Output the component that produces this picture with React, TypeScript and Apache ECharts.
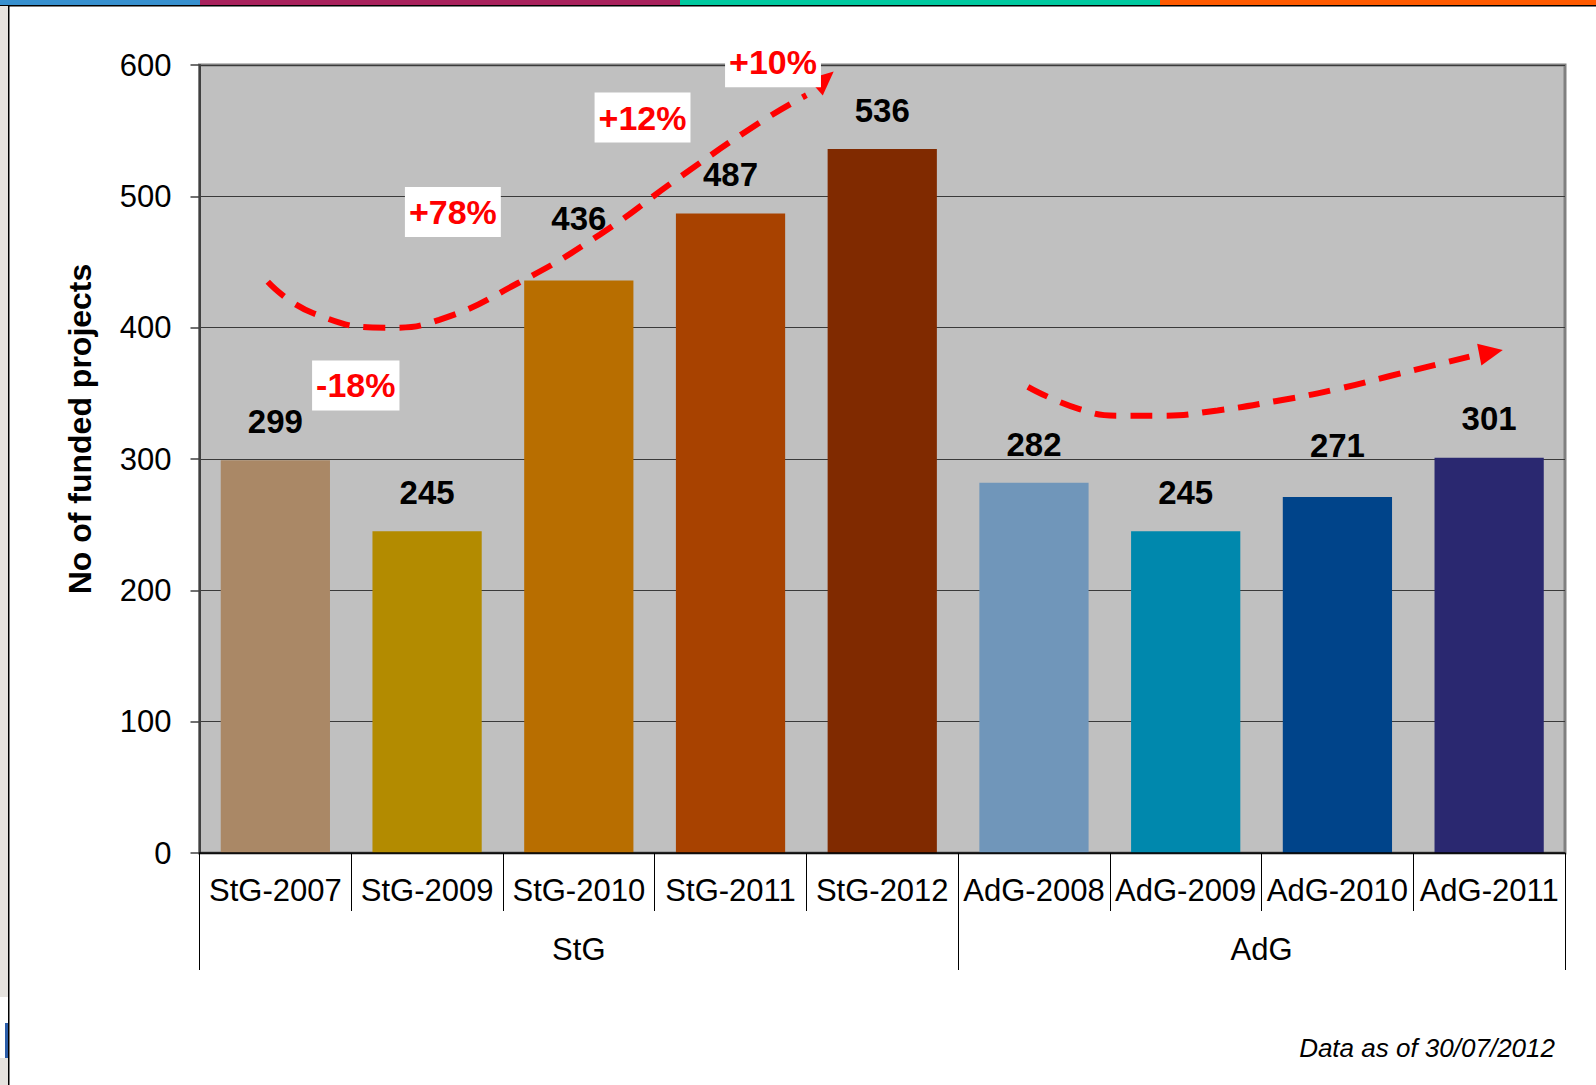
import React, { useEffect, useRef } from "react";
import * as echarts from "echarts";

// ---- data ----
const categories = ["StG-2007", "StG-2009", "StG-2010", "StG-2011", "StG-2012", "AdG-2008", "AdG-2009", "AdG-2010", "AdG-2011"];
const projects = [299, 245, 436, 487, 536, 282, 245, 271, 301];
const barColors = ["#AA8866", "#B38B00", "#B86E00", "#A84200", "#802A00", "#7096BA", "#0088AD", "#00448A", "#2A2870"];
const groupNames = ["StG", "AdG"];
const groupStart = [0, 5];
const groupEnd = [4, 8];
const yMin = 0;
const yMax = 600;
const yStep = 100;

// value-label lift above each bar (px) – a style, kept apart from the values
const labelDistance = [22, 22, 45, 22, 22, 22, 22, 35, 23];

// trend annotations (category index, value)
const stgTrend = [[-0.05, 435], [0.25, 411], [0.75, 400], [1.08, 406], [1.6, 434], [2.14, 471], [2.67, 515], [3.19, 556], [3.5, 577]];
const stgTrendTip = [3.68, 595];
const adgTrend = [[4.96, 355], [5.3, 338], [5.58, 333], [5.85, 333], [6.21, 337], [6.59, 344], [6.97, 352.5], [7.34, 363], [7.87, 378]];
const adgTrendTip = [8.09, 383];
const changeLabels = ["-18%", "+78%", "+12%", "+10%"];
const changeAnchors = [[0.53, 356], [1.17, 488], [2.42, 560], [3.28, 602]];

const FONT = "'Liberation Sans', Arial, Helvetica, sans-serif";

export default function App() {
  const ref = useRef<HTMLDivElement>(null);

  useEffect(() => {
    document.body.style.margin = "0";
    const chart = echarts.init(ref.current!, null, { renderer: "svg" });

    const nPts = categories.length * 2 + 1;
    const groupAxisData: string[] = new Array(nPts).fill("");
    const groupTickIdx: number[] = [];
    groupNames.forEach((g, i) => {
      const center = (groupStart[i] + groupEnd[i]) / 2;
      groupAxisData[Math.round((center + 0.5) * 2)] = g;
      groupTickIdx.push(groupStart[i] * 2, (groupEnd[i] + 1) * 2);
    });

    const dashed = {
      color: "#FF0000",
      width: 6,
      type: [22, 14],
      cap: "butt",
    };

    const option: any = {
      animation: false,
      backgroundColor: "#FFFFFF",
      grid: {
        left: 199.5,
        right: 31,
        top: 65,
        bottom: 232,
        show: true,
        backgroundColor: "#C0C0C0",
        borderColor: "#808080",
        borderWidth: 3,
      },
      xAxis: [
        {
          type: "category",
          data: categories,
          position: "bottom",
          axisLine: { show: true, onZero: false, lineStyle: { color: "#000000", width: 1.5 } },
          axisTick: { show: true, length: 58, lineStyle: { color: "#000000", width: 1 } },
          axisLabel: { interval: 0, fontSize: 31, color: "#000000", fontFamily: FONT, margin: 22 },
          splitLine: { show: false },
          z: 5,
        },
        {
          type: "category",
          data: groupAxisData,
          position: "bottom",
          boundaryGap: false,
          axisLine: { show: false, onZero: false },
          axisTick: {
            show: true,
            length: 117,
            interval: (i: number) => groupTickIdx.indexOf(i) >= 0,
            lineStyle: { color: "#000000", width: 1 },
          },
          axisLabel: { interval: 0, fontSize: 31, color: "#000000", fontFamily: FONT, margin: 81 },
          splitLine: { show: false },
        },
        {
          type: "value",
          show: false,
          min: -0.5,
          max: categories.length - 0.5,
          axisLine: { onZero: false },
        },
      ],
      yAxis: {
        type: "value",
        min: yMin,
        max: yMax,
        interval: yStep,
        position: "left",
        axisLine: { show: true, onZero: false, lineStyle: { color: "#404040", width: 2 } },
        axisTick: { show: true, length: 9, lineStyle: { color: "#404040", width: 1.5 } },
        axisLabel: { fontSize: 31, color: "#000000", fontFamily: FONT, margin: 28 },
        splitLine: { show: true, lineStyle: { color: "#3A3A3A", width: 1 } },
      },
      series: [
        {
          type: "bar",
          xAxisIndex: 0,
          yAxisIndex: 0,
          barCategoryGap: "28%",
          data: projects.map((v, i) => ({
            value: v,
            itemStyle: { color: barColors[i] },
            label: { distance: labelDistance[i] },
          })),
          label: {
            show: true,
            position: "top",
            distance: 22,
            fontSize: 33,
            fontWeight: "bold",
            fontFamily: FONT,
            color: "#000000",
          },
          z: 2,
        },
        {
          type: "line",
          xAxisIndex: 2,
          yAxisIndex: 0,
          data: stgTrend,
          smooth: 0.5,
          symbol: "none",
          silent: true,
          lineStyle: dashed,
          z: 10,
        },
        {
          type: "line",
          xAxisIndex: 2,
          yAxisIndex: 0,
          data: adgTrend,
          smooth: 0.5,
          symbol: "none",
          silent: true,
          lineStyle: dashed,
          z: 10,
        },
      ],
    };

    chart.setOption(option);

    const toPx = (p: number[]) => chart.convertToPixel({ xAxisIndex: 2, yAxisIndex: 0 } as any, p) as number[];
    const head = (from: number[], tip: number[], len: number, hw: number) => {
      const dx = tip[0] - from[0];
      const dy = tip[1] - from[1];
      const d = Math.hypot(dx, dy) || 1;
      const ux = dx / d;
      const uy = dy / d;
      const bx = tip[0] - ux * len;
      const by = tip[1] - uy * len;
      return [
        [tip[0], tip[1]],
        [bx - uy * hw, by + ux * hw],
        [bx + uy * hw, by - ux * hw],
      ];
    };

    const graphics: any[] = [];
    // top colour strip
    const strip = [
      [0, 200, "#3790CF"],
      [200, 680, "#A8215C"],
      [680, 1160, "#00C99F"],
      [1160, 1596, "#FF5A00"],
    ];
    strip.forEach((s: any, i) => {
      graphics.push({ type: "rect", id: "strip" + i, shape: { x: s[0], y: 0, width: s[1] - s[0], height: 5 }, style: { fill: s[2] }, z: 50 });
    });
    graphics.push({ type: "rect", id: "topline", shape: { x: 0, y: 5, width: 1596, height: 1.5 }, style: { fill: "#000000" }, z: 50 });
    graphics.push({ type: "rect", id: "leftgray1", shape: { x: 0, y: 6, width: 8, height: 991 }, style: { fill: "#E6E3DF" }, z: 50 });
    graphics.push({ type: "rect", id: "leftgray2", shape: { x: 0, y: 1058, width: 8, height: 27 }, style: { fill: "#E6E3DF" }, z: 50 });
    graphics.push({ type: "rect", id: "leftblue", shape: { x: 5, y: 1023, width: 3, height: 35 }, style: { fill: "#2A5CA8" }, z: 50 });
    graphics.push({ type: "rect", id: "leftline", shape: { x: 8, y: 5, width: 1.5, height: 1080 }, style: { fill: "#000000" }, z: 51 });

    // arrow heads
    const h1 = head(toPx(stgTrend[stgTrend.length - 1]), toPx(stgTrendTip), 24, 11);
    const h2 = head(toPx(adgTrend[adgTrend.length - 1]), toPx(adgTrendTip), 24, 11);
    graphics.push({ type: "polygon", id: "head1", shape: { points: h1 }, style: { fill: "#FF0000" }, z: 100 });
    graphics.push({ type: "polygon", id: "head2", shape: { points: h2 }, style: { fill: "#FF0000" }, z: 100 });

    // change labels
    changeLabels.forEach((t, i) => {
      const p = toPx(changeAnchors[i]);
      graphics.push({
        type: "text",
        id: "chg" + i,
        x: p[0],
        y: p[1],
        z: 100,
        style: {
          text: t,
          fill: "#FF0000",
          font: "bold 34px " + FONT,
          align: "center",
          verticalAlign: "middle",
          backgroundColor: "#FFFFFF",
          padding: [8, 4, 8, 4],
        },
      });
    });

    // y axis title
    graphics.push({
      type: "text",
      id: "ytitle",
      x: 80,
      y: 429,
      rotation: Math.PI / 2,
      z: 100,
      style: {
        text: "No of funded projects",
        fill: "#000000",
        font: "bold 32px " + FONT,
        align: "center",
        verticalAlign: "middle",
      },
    });

    // footnote
    graphics.push({
      type: "text",
      id: "foot",
      x: 1555,
      y: 1048,
      z: 100,
      style: {
        text: "Data as of 30/07/2012",
        fill: "#000000",
        font: "italic 26px " + FONT,
        align: "right",
        verticalAlign: "middle",
      },
    });

    chart.setOption({ graphic: graphics });

    return () => chart.dispose();
  }, []);

  return <div ref={ref} style={{ width: 1596, height: 1085 }} />;
}
